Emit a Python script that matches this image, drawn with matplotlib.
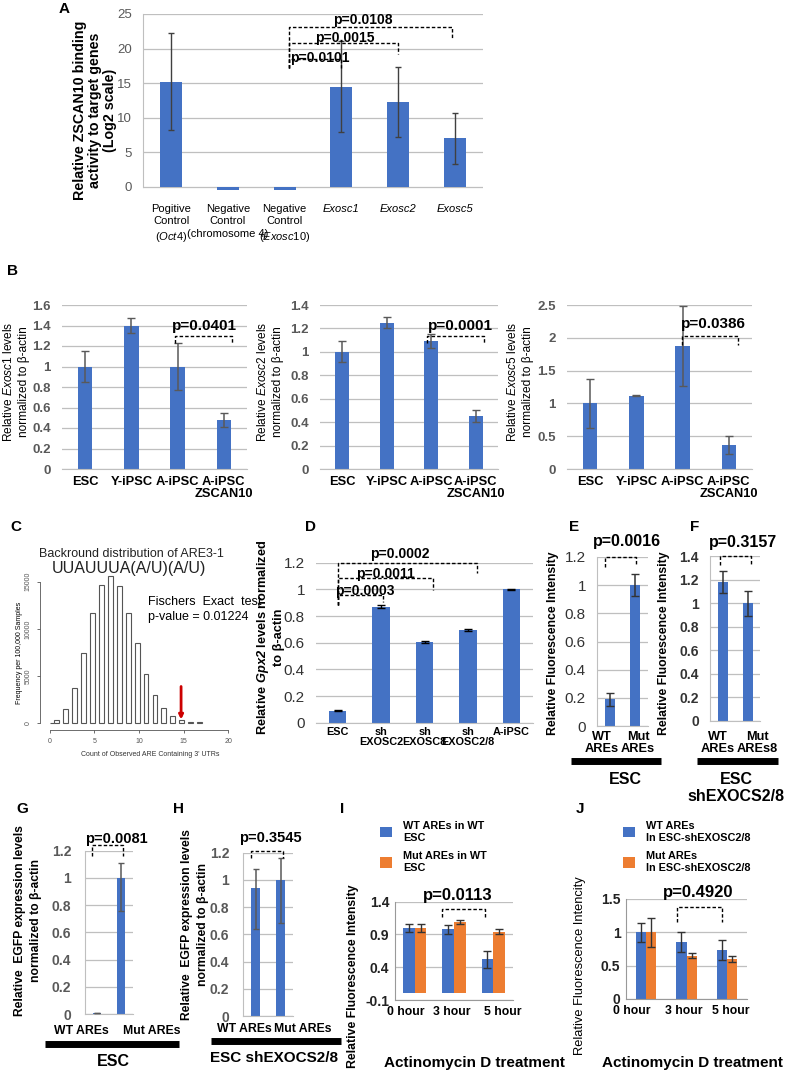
import matplotlib
matplotlib.use("Agg")
import matplotlib.pyplot as plt
from matplotlib import font_manager

# ---- fonts ----
names = {f.name for f in font_manager.fontManager.ttflist}
NARROW = 'Liberation Sans Narrow' if 'Liberation Sans Narrow' in names else 'Liberation Sans'
plt.rcParams['font.family'] = ['Liberation Sans', 'DejaVu Sans']
plt.rcParams['mathtext.fontset'] = 'custom'
plt.rcParams['mathtext.rm'] = 'Liberation Sans'
plt.rcParams['mathtext.it'] = 'Liberation Sans:italic'
plt.rcParams['mathtext.bf'] = 'Liberation Sans:bold'
plt.rcParams['mathtext.bfit'] = 'Liberation Sans:bold:italic'

# ---- data ----
# A
a_labels = ['Pogitive\nControl\n($\\it{Oct4}$)', 'Negative\nControl\n(chromosome 4)',
            'Negative\nControl\n($\\it{Exosc10}$)', 'Exosc1', 'Exosc2', 'Exosc5']
a_vals = [15.2, -0.5, -0.5, 14.5, 12.3, 7.0]
a_err = [7.0, 0, 0, 6.6, 5.1, 3.7]
# B
b_labels = ['ESC', 'Y-iPSC', 'A-iPSC', 'A-iPSC\nZSCAN10']
b1_vals = [1.0, 1.40, 1.0, 0.48]
b1_err = [0.15, 0.07, 0.23, 0.07]
b2_vals = [1.0, 1.25, 1.09, 0.45]
b2_err = [0.09, 0.05, 0.06, 0.05]
b3_vals = [1.0, 1.12, 1.87, 0.37]
b3_err = [0.37, 0.01, 0.61, 0.14]
# C (histogram of background distribution)
c_left = [0, 0.5, 1.5, 2.5, 3.5, 4.5, 5.5, 6.5, 7.5, 8.5, 9.5, 10.5, 11.5, 12.5, 13.5, 14.5, 15.5, 16.5]
c_width = [0.5] + [0.55] * 17
c_counts = [40, 350, 1480, 3750, 7400, 11650, 14700, 15600, 14550, 11650, 8550, 5250,
            3050, 1580, 780, 350, 140, 110]
c_observed = 14.7
# D
d_labels = ['ESC', 'sh\nEXOSC2', 'sh\nEXOSC8', 'sh\nEXOSC2/8', 'A-iPSC']
d_vals = [0.09, 0.87, 0.605, 0.695, 1.0]
d_err = [0.004, 0.012, 0.01, 0.006, 0.002]
# E, F
e_labels = ['WT\nAREs', 'Mut\nAREs']
e_vals = [0.19, 1.0]
e_err = [0.045, 0.08]
f_labels = ['WT\nAREs', 'Mut\nAREs8']
f_vals = [1.18, 1.0]
f_err = [0.09, 0.105]
# G, H
g_labels = ['WT AREs', 'Mut AREs']
g_vals = [0.005, 1.0]
g_err_lo = [0, 0.24]
g_err_hi = [0, 0.11]
h_vals = [0.94, 1.0]
h_err_lo = [0.30, 0.32]
h_err_hi = [0.14, 0.16]
# I, J
t_labels = ['0 hour', '3 hour', '5 hour']
i_wt = [1.0, 0.98, 0.52]
i_wt_err = [0.06, 0.07, 0.13]
i_mut = [1.0, 1.09, 0.94]
i_mut_err = [0.06, 0.03, 0.04]
j_wt = [1.0, 0.85, 0.73]
j_wt_err = [0.14, 0.15, 0.15]
j_mut = [1.0, 0.65, 0.60]
j_mut_err = [0.22, 0.04, 0.04]

BLUE = '#4472C4'
ORANGE = '#ED7D31'
GRID = '#BFBFBF'
TICK = '#595959'
DASH = (0, (2.5, 1.5))

W, H = 785, 1075
fig = plt.figure(figsize=(W / 100, H / 100), dpi=100)


def add_ax(x0, ytop, x1, ybot):
    return fig.add_axes([x0 / W, 1 - ybot / H, (x1 - x0) / W, (ybot - ytop) / H])


def excel(ax, left=False):
    for s in ['top', 'right']:
        ax.spines[s].set_visible(False)
    ax.spines['left'].set_visible(left)
    ax.spines['left'].set_color(GRID)
    ax.spines['bottom'].set_color(GRID)
    ax.yaxis.grid(True, color=GRID, lw=0.9)
    ax.set_axisbelow(True)
    ax.tick_params(length=0)


def bracket(ax, x0, x1, ytop, yl, yr, text, tx, ty, fs=10, family=None):
    ax.plot([x0, x0, x1, x1], [yl, ytop, ytop, yr], color='black', lw=1, ls=DASH,
            clip_on=False, zorder=5)
    kw = {'family': family} if family else {}
    ax.text(tx, ty, text, ha='center', va='baseline', fontsize=fs, fontweight='bold',
            clip_on=False, zorder=6, **kw)


def ylab(text, x, y, fs=8, weight='normal', ls=1.2):
    fig.text(x / W, 1 - y / H, text, rotation=90, ha='center', va='center',
             fontsize=fs, fontweight=weight, linespacing=ls)


def ftext(x, y, text, fs=10, weight='bold', ha='center', va='center', **kw):
    fig.text(x / W, 1 - y / H, text, ha=ha, va=va, fontsize=fs, fontweight=weight, **kw)


def hline(x0, x1, y, lw=5):
    fig.add_artist(plt.Line2D([x0 / W, x1 / W], [1 - y / H, 1 - y / H], color='black',
                              lw=lw, solid_capstyle='butt'))


# ---------------- A ----------------
ax = add_ax(143, 14, 483, 191)
xa = range(len(a_vals))
ax.bar(xa, a_vals, width=0.39, color=BLUE, zorder=2)
ax.errorbar([0, 3, 4, 5], [a_vals[i] for i in (0, 3, 4, 5)], yerr=[a_err[i] for i in (0, 3, 4, 5)],
            fmt='none', ecolor='#404040', elinewidth=1, capsize=2.5, zorder=3)
ax.set_xlim(-0.5, 5.5)
ax.set_ylim(-0.6, 25)
ax.set_yticks([0, 5, 10, 15, 20, 25])
excel(ax, left=True)
ax.spines['bottom'].set_visible(False)
ax.spines['left'].set_bounds(0, 25)
ax.set_xticks(list(xa))
ax.set_xticklabels(a_labels, family=NARROW, fontsize=8.0, linespacing=1.35)
for t in ax.get_xticklabels()[3:]:
    t.set_fontstyle('italic')
ax.tick_params(axis='x', pad=9)
ax.tick_params(axis='y', pad=8)
for t in ax.get_yticklabels():
    t.set_family(NARROW)
    t.set_fontsize(9.5)
    t.set_color(TICK)
bracket(ax, 2.08, 3.0, 18.5, 17.2, 17.2, 'p=0.0101', 2.62, 18.1, fs=10, family=NARROW)
bracket(ax, 2.08, 4.0, 20.8, 17.2, 19.2, 'p=0.0015', 3.06, 21.0, fs=10, family=NARROW)
bracket(ax, 2.08, 4.95, 23.1, 17.2, 21.5, 'p=0.0108', 3.38, 23.55, fs=10, family=NARROW)
ylab('Relative ZSCAN10 binding\nactivity to target genes\n(Log2 scale)', 95, 110, fs=10.3,
     weight='bold', ls=1.08)

# ---------------- B ----------------
b_panels = [
    (62, 247, b1_vals, b1_err, 1.6, 0.2, 'Relative $\\it{Exosc1}$ levels\nnormalized to β-actin', 16,
     (1.94, 3.18, 1.30, 1.23, 1.23, 'p=0.0401', 2.59, 1.356)),
    (320, 498, b2_vals, b2_err, 1.4, 0.2, 'Relative $\\it{Exosc2}$ levels\nnormalized to β-actin', 270,
     (1.90, 3.19, 1.138, 1.075, 1.075, 'p=0.0001', 2.65, 1.187)),
    (567, 752, b3_vals, b3_err, 2.5, 0.5, 'Relative $\\it{Exosc5}$ levels\nnormalized to β-actin', 520,
     (1.99, 3.20, 2.03, 1.89, 1.89, 'p=0.0386', 2.66, 2.15)),
]
for x0, x1, vals, err, ymax, step, label, lx, br in b_panels:
    ax = add_ax(x0, 305, x1, 469)
    xb = range(len(vals))
    ax.bar(xb, vals, width=0.31, color=BLUE, zorder=2)
    ax.errorbar(xb, vals, yerr=err, fmt='none', ecolor='#595959', elinewidth=1.1, capsize=3, zorder=3)
    ax.set_xlim(-0.5, 3.5)
    ax.set_ylim(0, ymax)
    n = int(round(ymax / step))
    ticks = [round(i * step, 2) for i in range(n + 1)]
    ax.set_yticks(ticks)
    ax.set_yticklabels([f'{t:g}' for t in ticks], fontsize=9.5, fontweight='bold', color=TICK)
    excel(ax)
    ax.set_xticks(list(xb))
    ax.set_xticklabels(b_labels, fontsize=9.3, fontweight='bold', linespacing=1.0)
    ax.tick_params(axis='x', pad=5)
    ax.tick_params(axis='y', pad=8)
    bracket(ax, *br, fs=11)
    ylab(label, lx, 382, fs=8.6, ls=1.4)

# ---------------- C ----------------
ax = add_ax(40, 575, 240, 730)
ax.bar(c_left, c_counts, width=c_width, align='edge', color='white', edgecolor='#555555',
       lw=0.8, zorder=2)
ax.set_xlim(-1.1, 21.3)
ax.set_ylim(-710, 15710)
for s in ['top', 'right']:
    ax.spines[s].set_visible(False)
ax.spines['left'].set_bounds(0, 15000)
ax.spines['bottom'].set_bounds(0, 20)
for s in ['left', 'bottom']:
    ax.spines[s].set_color('#555555')
    ax.spines[s].set_linewidth(0.6)
ax.set_xticks([0, 5, 10, 15, 20])
ax.set_yticks([0, 5000, 10000, 15000])
ax.tick_params(labelsize=5, colors='#555555', length=2.5, width=0.6)
for t in ax.get_yticklabels():
    t.set_rotation(90)
    t.set_va('center')
ax.annotate('', xy=(c_observed, 400), xytext=(c_observed, 3900),
            arrowprops=dict(arrowstyle='-|>', color='#CC0000', lw=2, mutation_scale=6,
                            shrinkA=0, shrinkB=0))
ftext(150, 754, "Count of Observed ARE Containing 3' UTRs", fs=5, weight='normal', color='#333333')
ylab('Frequency per 100,000 Samples', 20, 653, fs=5)
ftext(131, 554, 'Backround distribution of ARE3-1', fs=9, weight='normal', color='#222222')
ftext(129, 569, 'UUAUUUA(A/U)(A/U)', fs=11.5, weight='normal', color='#222222')
ftext(148, 602, 'Fischers  Exact  test', fs=9, weight='normal', ha='left')
ftext(148, 617, 'p-value = 0.01224', fs=9, weight='normal', ha='left')

# ---------------- D ----------------
ax = add_ax(316, 562.7, 533, 722.7)
xd = range(len(d_vals))
ax.bar(xd, d_vals, width=0.40, color=BLUE, zorder=2)
ax.errorbar(xd, d_vals, yerr=d_err, fmt='none', ecolor='black', elinewidth=1, capsize=3, zorder=3)
ax.set_xlim(-0.5, 4.5)
ax.set_ylim(0, 1.2)
ax.set_yticks([0, 0.2, 0.4, 0.6, 0.8, 1.0, 1.2])
ax.set_yticklabels(['0', '0.2', '0.4', '0.6', '0.8', '1', '1.2'], fontsize=11, color='#333333')
excel(ax)
ax.set_xticks(list(xd))
ax.set_xticklabels(d_labels, fontsize=7.8, fontweight='bold', linespacing=1.05)
ax.tick_params(axis='x', pad=3)
ax.tick_params(axis='y', pad=8)
bracket(ax, 0.0, 3.21, 1.2, 0.88, 1.12, 'p=0.0002', 1.44, 1.235)
bracket(ax, 0.0, 2.2, 1.083, 0.88, 0.995, 'p=0.0011', 1.09, 1.085)
bracket(ax, 0.0, 1.04, 0.957, 0.88, 0.905, 'p=0.0003', 0.63, 0.955)
ylab('Relative $\\mathbfit{Gpx2}$ levels normalized\nto β-actin', 270, 637, fs=9.2, weight='bold',
     ls=1.15)

# ---------------- E / F ----------------
for x0, x1, ytop, ybot, vals, err, labels, lab_px, ymax, ticks, tl_kw, br, lx in [
    (597, 648, 557, 726, e_vals, e_err, e_labels, (602, 638), 1.2,
     [0, 0.2, 0.4, 0.6, 0.8, 1.0, 1.2], dict(fontsize=11, color='#333333'),
     (-0.19, 1.03, 1.2, 1.13, 1.14, 'p=0.0016', 0.68, 1.28), 553),
    (710, 760, 556, 721, f_vals, f_err, f_labels, (718, 757), 1.4,
     [0, 0.2, 0.4, 0.6, 0.8, 1.0, 1.2, 1.4], dict(fontsize=10, color='#333333', fontweight='bold'),
     (-0.1, 1.14, 1.4, 1.32, 1.32, 'p=0.3157', 0.82, 1.48), 664),
]:
    ax = add_ax(x0, ytop, x1, ybot)
    ax.bar([0, 1], vals, width=0.40, color=BLUE, zorder=2)
    ax.errorbar([0, 1], vals, yerr=err, fmt='none', ecolor='#333333', elinewidth=1.1, capsize=3,
                zorder=3)
    ax.set_xlim(-0.5, 1.5)
    ax.set_ylim(0, ymax)
    ax.set_yticks(ticks)
    ax.set_yticklabels([f'{t:g}' for t in ticks], **tl_kw)
    excel(ax, left=True)
    ax.set_xticks([])
    ax.tick_params(axis='y', pad=8)
    for px, lab in zip(lab_px, labels):
        ftext(px, 743, lab, fs=9.2, linespacing=1.05)
    bracket(ax, *br, fs=11.5)
    ylab('Relative Fluorescence Intensity', lx, 643, fs=8.8, weight='bold')

hline(571, 661, 761)
ftext(625, 779, 'ESC', fs=11.5)
hline(697, 778, 761)
ftext(736, 788, 'ESC\nshEXOCS2/8', fs=11.5, linespacing=1.1)

# ---------------- G / H ----------------
for x0, x1, ytop, ybot, vals, elo, ehi, br, lx, ly, lab_px, lab_y in [
    (85, 133, 850.7, 1014, g_vals, g_err_lo, g_err_hi,
     (-0.22, 1.07, 1.24, 1.16, 1.16, 'p=0.0081', 0.79, 1.26), 28, 921, (81, 152), 1031),
    (243, 293, 852.7, 1016, h_vals, h_err_lo, h_err_hi,
     (-0.19, 1.09, 1.21, 1.16, 1.16, 'p=0.3545', 0.58, 1.28), 195, 925, (244, 303), 1029),
]:
    ax = add_ax(x0, ytop, x1, ybot)
    ax.bar([0, 1], vals, width=0.33, color=BLUE, zorder=2)
    ax.errorbar([0, 1], vals, yerr=[elo, ehi], fmt='none', ecolor='#595959', elinewidth=1.1,
                capsize=2.5, zorder=3)
    ax.set_xlim(-0.5, 1.5)
    ax.set_ylim(0, 1.2)
    ticks = [0, 0.2, 0.4, 0.6, 0.8, 1.0, 1.2]
    ax.set_yticks(ticks)
    ax.set_yticklabels([f'{t:g}' for t in ticks], fontsize=10, fontweight='bold', color=TICK)
    excel(ax, left=True)
    ax.set_xticks([])
    ax.tick_params(axis='y', pad=10)
    for px, lab in zip(lab_px, g_labels):
        ftext(px, lab_y, lab, fs=8.8)
    bracket(ax, *br, fs=10.5)
    ylab('Relative  EGFP expression levels\nnormalized to β-actin', lx, ly, fs=8.7, weight='bold',
         ls=1.5)

hline(45, 179, 1044)
ftext(113, 1061, 'ESC', fs=11.5)
hline(211, 341, 1041)
ftext(274, 1058, 'ESC shEXOCS2/8', fs=11)

# ---------------- I / J ----------------
for x0, x1, ytop, ybot, wt, wte, mut, mute, ylim, ticks, off, bw, br, leg, lx, ly, lw, cx, tpx in [
    (395, 513, 901.7, 1000, i_wt, i_wt_err, i_mut, i_mut_err, (-0.1, 1.4), [-0.1, 0.4, 0.9, 1.4],
     0.15, 0.30, (0.69, 1.79, 1.29, 1.17, 1.17, 'p=0.0113', 1.1, 1.43),
     (['WT AREs in WT\nESC', 'Mut AREs in WT\nESC'], 380, 821), 353, 976, 'bold', 474,
     (406, 452, 503)),
    (626, 747, 899, 999, j_wt, j_wt_err, j_mut, j_mut_err, (0, 1.5), [0, 0.5, 1, 1.5],
     0.125, 0.25, (0.76, 1.87, 1.38, 1.15, 1.15, 'p=0.4920', 1.29, 1.53),
     (['WT AREs\nIn ESC-shEXOSC2/8', 'Mut AREs\nIn ESC-shEXOSC2/8'], 623, 821), 580, 966,
     'normal', 692, (632, 684, 731)),
]:
    ax = add_ax(x0, ytop, x1, ybot)
    xs = range(len(wt))
    b1 = ax.bar([x - off for x in xs], wt, width=bw, color=BLUE, zorder=2)
    b2 = ax.bar([x + off for x in xs], mut, width=bw, color=ORANGE, zorder=2)
    ax.errorbar([x - off for x in xs], wt, yerr=wte, fmt='none', ecolor='#333333', elinewidth=1,
                capsize=3, zorder=3)
    ax.errorbar([x + off for x in xs], mut, yerr=mute, fmt='none', ecolor='#333333', elinewidth=1,
                capsize=3, zorder=3)
    ax.set_xlim(-0.5, 2.5)
    ax.set_ylim(*ylim)
    ax.set_yticks(ticks)
    ax.set_yticklabels([f'{t:g}' for t in ticks], fontsize=10, fontweight='bold', color='#222222')
    excel(ax, left=True)
    ax.spines['bottom'].set_color('#999999')
    ax.spines['left'].set_color('#999999')
    ax.set_xticks([])
    ax.tick_params(axis='y', pad=4)
    for px, lab in zip(tpx, t_labels):
        ftext(px, ybot + 12, lab, fs=8.8)
    bracket(ax, *br, fs=12)
    labels, legx, legy = leg
    fig.legend([b1, b2], labels, loc='upper left', bbox_to_anchor=(legx / W, 1 - legy / H),
               frameon=False, handlelength=1.1, handleheight=1.1, handletextpad=1.0,
               labelspacing=0.8, borderpad=0, borderaxespad=0,
               prop={'size': 7.8, 'weight': 'bold'})
    ylab('Relative Fluorescence Intensity' if lw == 'bold' else 'Relative Fluorescence Intencity',
         lx, ly, fs=8.8 if lw == 'bold' else 9.3, weight=lw)
    ftext(cx, 1063, 'Actinomycin D treatment', fs=11)

# ---------------- panel letters ----------------
for letter, x, y in [('A', 64, 9), ('B', 13, 271), ('C', 16, 527), ('D', 310, 527),
                     ('E', 574, 527), ('F', 695, 527), ('G', 22, 809), ('H', 179, 809),
                     ('I', 342, 809), ('J', 580, 809)]:
    ftext(x, y, letter, fs=11)

fig.savefig('out.png', dpi=100)
